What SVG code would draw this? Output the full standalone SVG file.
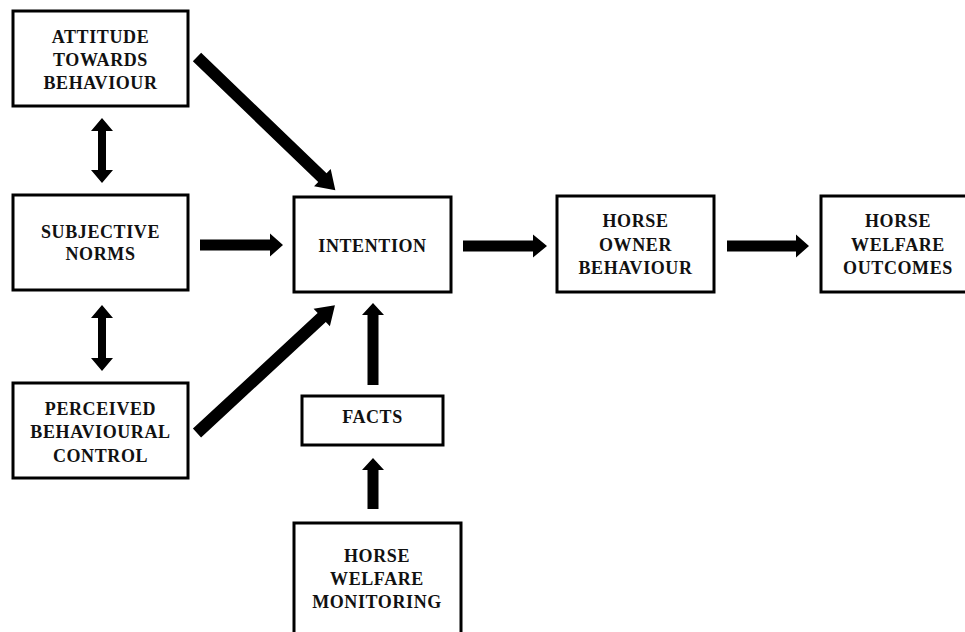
<svg xmlns="http://www.w3.org/2000/svg" width="965" height="632" viewBox="0 0 965 632">
<style>
.box{fill:#fff;stroke:#000;stroke-width:3}
.t{font-family:"Liberation Serif","Times New Roman",serif;font-weight:bold;font-size:18px;fill:#111;text-anchor:middle;letter-spacing:0.6px}
.ar{fill:#000}
</style>
<rect width="965" height="632" fill="#fff"/>
<g id="attitude"><rect class="box" x="13" y="11" width="175" height="95"/>
<text class="t" x="100.5" y="43">ATTITUDE</text><text class="t" x="100.5" y="66">TOWARDS</text><text class="t" x="100.5" y="89">BEHAVIOUR</text></g>
<g id="subjective"><rect class="box" x="13" y="195" width="175" height="95"/>
<text class="t" x="100.5" y="238">SUBJECTIVE</text><text class="t" x="100.5" y="260">NORMS</text></g>
<g id="perceived"><rect class="box" x="13" y="383" width="175" height="95"/>
<text class="t" x="100.5" y="415">PERCEIVED</text><text class="t" x="100.5" y="438">BEHAVIOURAL</text><text class="t" x="100.5" y="462">CONTROL</text></g>
<g id="intention"><rect class="box" x="294" y="197" width="157" height="95"/>
<text class="t" x="372.5" y="252">INTENTION</text></g>
<g id="facts"><rect class="box" x="302" y="396" width="141" height="49"/>
<text class="t" x="372.5" y="423">FACTS</text></g>
<g id="monitoring"><rect class="box" x="294" y="523" width="167" height="120"/>
<text class="t" x="377" y="562">HORSE</text><text class="t" x="377" y="585">WELFARE</text><text class="t" x="377" y="608">MONITORING</text></g>
<g id="owner"><rect class="box" x="557" y="196" width="157" height="96"/>
<text class="t" x="635.5" y="227">HORSE</text><text class="t" x="635.5" y="251">OWNER</text><text class="t" x="635.5" y="274">BEHAVIOUR</text></g>
<g id="outcomes"><rect class="box" x="821" y="196" width="154" height="96"/>
<text class="t" x="898" y="227">HORSE</text><text class="t" x="898" y="251">WELFARE</text><text class="t" x="898" y="274">OUTCOMES</text></g>
<g id="connectors">
<polygon class="ar" points="102,118 113,131 106,131 106,170 113,170 102,183 91,170 98,170 98,131 91,131"/>
<polygon class="ar" points="102,305 113,318 106,318 106,358 113,358 102,371 91,358 98,358 98,318 91,318"/>
<polygon class="ar" points="200,239.5 270,239.5 270,233.5 283,245 270,256.5 270,250.5 200,250.5"/>
<polygon class="ar" points="463,240.5 533,240.5 533,234.5 547,246 533,257.5 533,251.5 463,251.5"/>
<polygon class="ar" points="727,240.5 796,240.5 796,234.5 809,246 796,257.5 796,251.5 727,251.5"/>
<polygon class="ar" points="367.5,385 367.5,315 362,315 373,303 384,315 378.5,315 378.5,385"/>
<polygon class="ar" points="367.5,509 367.5,470 362,470 373,458 384,470 378.5,470 378.5,509"/>
<polygon class="ar" transform="translate(197,57) rotate(43.9)" points="0,-6 174,-6 174,-12 192,0 174,12 174,6 0,6"/>
<polygon class="ar" transform="translate(197,433) rotate(-42.8)" points="0,-6 170,-6 170,-12 188,0 170,12 170,6 0,6"/>
</g>
</svg>
